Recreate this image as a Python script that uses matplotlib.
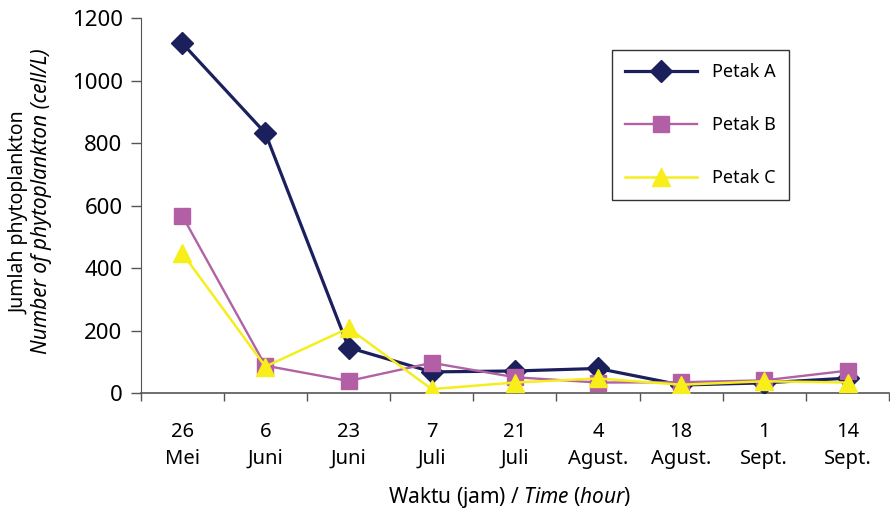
import matplotlib
matplotlib.use("Agg")
import matplotlib.pyplot as plt
from matplotlib.ticker import FixedLocator, NullFormatter

plt.rcParams['font.family'] = ['Noto Sans', 'DejaVu Sans']
plt.rcParams['mathtext.fontset'] = 'custom'
plt.rcParams['mathtext.rm'] = 'Noto Sans'
plt.rcParams['mathtext.it'] = 'Noto Sans:italic'

categories = ["26\nMei", "6\nJuni", "23\nJuni", "7\nJuli", "21\nJuli",
              "4\nAgust.", "18\nAgust.", "1\nSept.", "14\nSept."]
petak_a = [1120, 832, 146, 68, 71, 79, 26, 33, 48]
petak_b = [568, 88, 39, 97, 51, 34, 35, 41, 72]
petak_c = [448, 85, 208, 13, 34, 47, 27, 38, 34]
y_ticks = [0, 200, 400, 600, 800, 1000, 1200]

fig = plt.figure(figsize=(8.9, 5.18), dpi=100)
ax = fig.add_axes([0.158, 0.241, 0.841, 0.724])

x = list(range(len(categories)))
ax.plot(x, petak_a, color='#1b1f5c', lw=2.3, marker='D', ms=11,
        mfc='#1b1f5c', mec='#1b1f5c', label='Petak A', zorder=3)
ax.plot(x, petak_b, color='#b062a4', lw=1.7, marker='s', ms=11.5,
        mfc='#b35fa5', mec='#b35fa5', label='Petak B', zorder=4)
ax.plot(x, petak_c, color='#f5ee1e', lw=1.8, marker='^', ms=13,
        mfc='#f7ee1a', mec='#f7ee1a', label='Petak C', zorder=5)

ax.set_xlim(-0.5, len(categories) - 0.5)
ax.set_ylim(0, 1200)
ax.set_yticks(y_ticks)
ax.set_xticks(x)
ax.set_xticklabels(categories, fontsize=14.5, linespacing=1.45)
ax.xaxis.set_minor_locator(FixedLocator([i + 0.5 for i in range(-1, len(categories))]))
ax.xaxis.set_minor_formatter(NullFormatter())
ax.tick_params(axis='x', which='major', length=0, pad=21)
ax.tick_params(axis='x', which='minor', length=6, width=1, color='#555555', direction='out')
ax.tick_params(axis='y', labelsize=16, length=7, width=1, color='#555555', pad=6)

for s in ['top', 'right']:
    ax.spines[s].set_visible(False)
ax.spines['left'].set_color('#555555')
ax.spines['bottom'].set_color('#555555')
ax.spines['bottom'].set_linewidth(1.2)

leg = ax.legend(loc='upper left', bbox_to_anchor=(0.630, 0.915), fontsize=13,
                frameon=True, fancybox=False, edgecolor='black',
                handlelength=4.0, labelspacing=1.95, borderpad=0.72,
                handletextpad=0.8, borderaxespad=0)
leg.get_frame().set_linewidth(1.0)

fig.text(0.022, 0.59, "Jumlah phytoplankton", rotation=90, fontsize=14,
         ha='center', va='center')
fig.text(0.047, 0.612, "Number of phytoplankton (cell/L)", rotation=90,
         fontsize=15, style='italic', ha='center', va='center')
fig.text(0.573, 0.04, r"Waktu (jam) / $\mathit{Time}$ ($\mathit{hour}$)",
         fontsize=15, ha='center', va='center')

fig.savefig("out.png", dpi=100)
